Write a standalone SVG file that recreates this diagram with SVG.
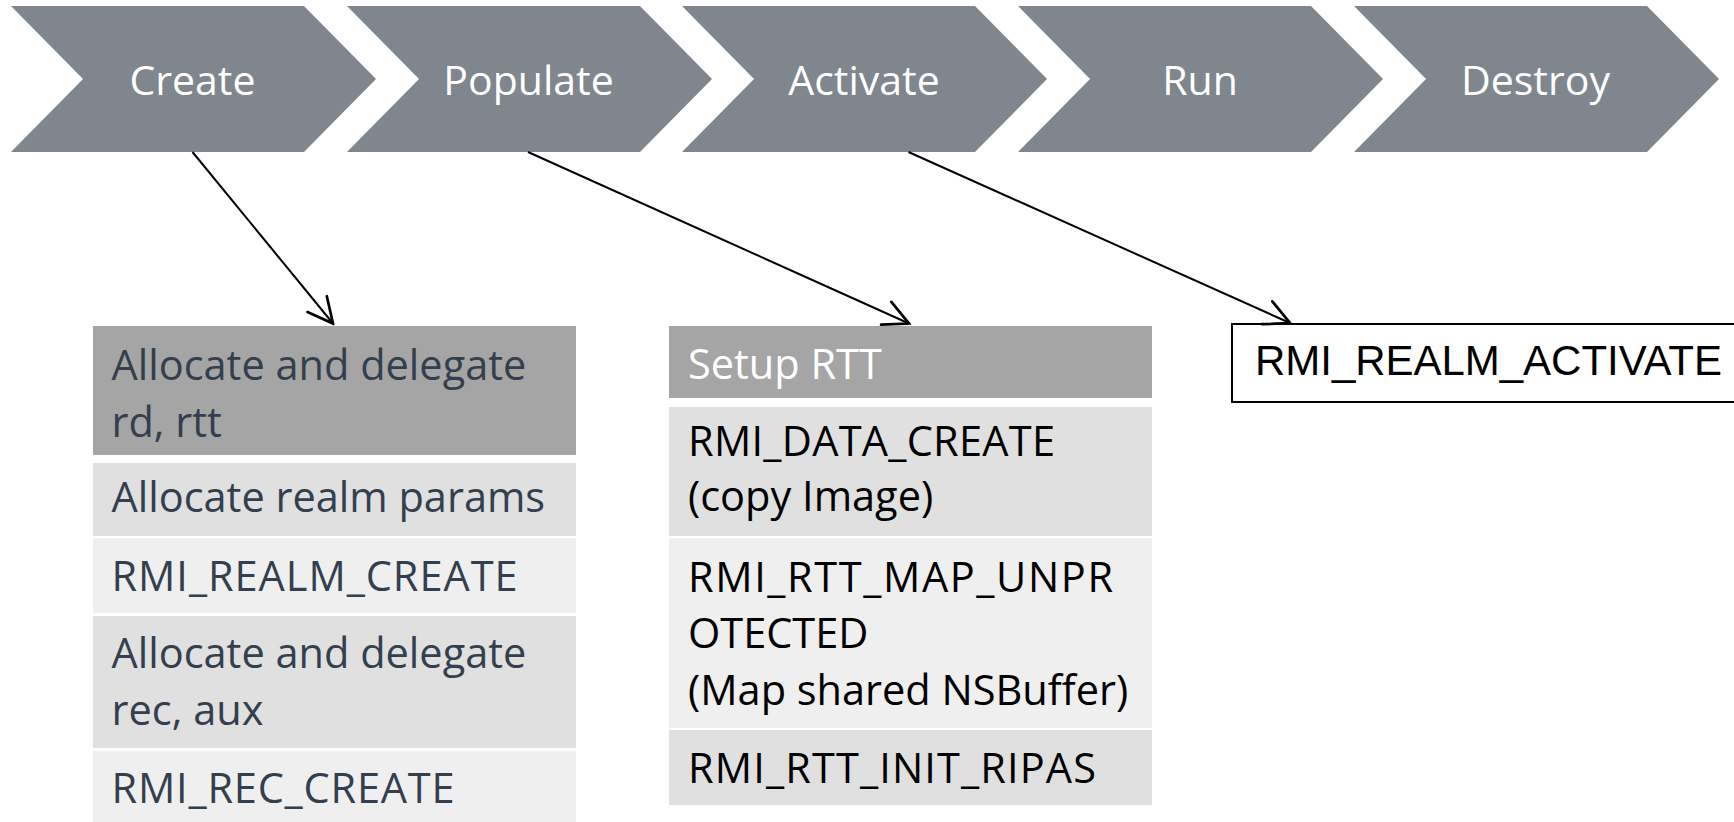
<svg xmlns="http://www.w3.org/2000/svg" width="1734" height="822" viewBox="0 0 1734 822">
  <style>
    .chev { fill: #7f868e; }
    .chev-label { font-family: "Open Sans", "Noto Sans", sans-serif; font-size: 41px; fill: #ffffff; text-anchor: middle; }
    .head { fill: #a5a5a5; }
    .mid { fill: #e0e0e0; }
    .light { fill: #efefef; }
    .step { font-family: "Open Sans", "Noto Sans", sans-serif; font-size: 41.5px; }
    .slate { fill: #333f4f; }
    .ink { fill: #000000; }
    .white { fill: #ffffff; }
    .call-box { fill: #ffffff; stroke: #000000; stroke-width: 2; }
    .call-text { font-family: "Liberation Sans", Arial, sans-serif; font-size: 42px; fill: #000000; }
    .link { stroke: #000000; stroke-width: 2; fill: none; marker-end: url(#open-arrow); }
  </style>
  <defs>
    <marker id="open-arrow" markerUnits="userSpaceOnUse" markerWidth="30" markerHeight="30" viewBox="-22 -12 24 24" refX="0" refY="0" orient="auto">
      <path d="M -20 -10 L 0 0 L -20 10" fill="none" stroke="#000000" stroke-width="2.2" stroke-linecap="round" stroke-linejoin="miter"/>
    </marker>
  </defs>

  <rect width="1734" height="822" fill="#ffffff"/>

  <!-- lifecycle stages -->
  <g id="stage-create">
    <path class="chev" d="M 11 6 L 304 6 L 376 79 L 304 152 L 11 152 L 83 79 Z"/>
    <text class="chev-label" x="192.5" y="95">Create</text>
  </g>
  <g id="stage-populate">
    <path class="chev" d="M 347 6 L 640 6 L 712 79 L 640 152 L 347 152 L 419 79 Z"/>
    <text class="chev-label" x="528.5" y="95">Populate</text>
  </g>
  <g id="stage-activate">
    <path class="chev" d="M 682 6 L 975 6 L 1047 79 L 975 152 L 682 152 L 754 79 Z"/>
    <text class="chev-label" x="864" y="95">Activate</text>
  </g>
  <g id="stage-run">
    <path class="chev" d="M 1018 6 L 1311 6 L 1383 79 L 1311 152 L 1018 152 L 1090 79 Z"/>
    <text class="chev-label" x="1200" y="95">Run</text>
  </g>
  <g id="stage-destroy">
    <path class="chev" d="M 1354 6 L 1647 6 L 1719 79 L 1647 152 L 1354 152 L 1426 79 Z"/>
    <text class="chev-label" x="1535.5" y="95">Destroy</text>
  </g>

  <!-- create steps -->
  <g id="create-steps">
    <rect class="head" x="93" y="326" width="483" height="129"/>
    <text class="step slate" x="111.5" y="380">Allocate and delegate</text>
    <text class="step slate" x="111.5" y="436.5">rd, rtt</text>

    <rect class="mid" x="93" y="463" width="483" height="73"/>
    <text class="step slate" x="111.5" y="511.5">Allocate realm params</text>

    <rect class="light" x="93" y="538" width="483" height="75"/>
    <text class="step slate" x="111.5" y="591" textLength="406" lengthAdjust="spacing">RMI_REALM_CREATE</text>

    <rect class="mid" x="93" y="616" width="483" height="132"/>
    <text class="step slate" x="111.5" y="668">Allocate and delegate</text>
    <text class="step slate" x="111.5" y="725">rec, aux</text>

    <rect class="light" x="93" y="751" width="483" height="71"/>
    <text class="step slate" x="111.5" y="803" textLength="343" lengthAdjust="spacing">RMI_REC_CREATE</text>
  </g>

  <!-- populate steps -->
  <g id="populate-steps">
    <rect class="head" x="669" y="326" width="483" height="72"/>
    <text class="step white" x="688" y="379">Setup RTT</text>

    <rect class="mid" x="669" y="407" width="483" height="129"/>
    <text class="step ink" x="688" y="455.5" textLength="367" lengthAdjust="spacing">RMI_DATA_CREATE</text>
    <text class="step ink" x="688" y="511">(copy Image)</text>

    <rect class="light" x="669" y="538" width="483" height="190"/>
    <text class="step ink" x="688" y="591.5" textLength="425" lengthAdjust="spacing">RMI_RTT_MAP_UNPR</text>
    <text class="step ink" x="688" y="648">OTECTED</text>
    <text class="step ink" x="688" y="705">(Map shared NSBuffer)</text>

    <rect class="mid" x="669" y="730" width="483" height="75"/>
    <text class="step ink" x="688" y="783" textLength="408" lengthAdjust="spacing">RMI_RTT_INIT_RIPAS</text>
  </g>

  <!-- activate call -->
  <g id="activate-call">
    <rect class="call-box" x="1232" y="324" width="540" height="78"/>
    <text class="call-text" x="1255" y="375" textLength="467" lengthAdjust="spacing">RMI_REALM_ACTIVATE</text>
  </g>

  <!-- connectors -->
  <g id="connectors">
    <line class="link" x1="192.5" y1="152" x2="333" y2="323.5"/>
    <line class="link" x1="528" y1="152" x2="909" y2="323.5"/>
    <line class="link" x1="908.5" y1="152" x2="1290" y2="323"/>
  </g>
</svg>
